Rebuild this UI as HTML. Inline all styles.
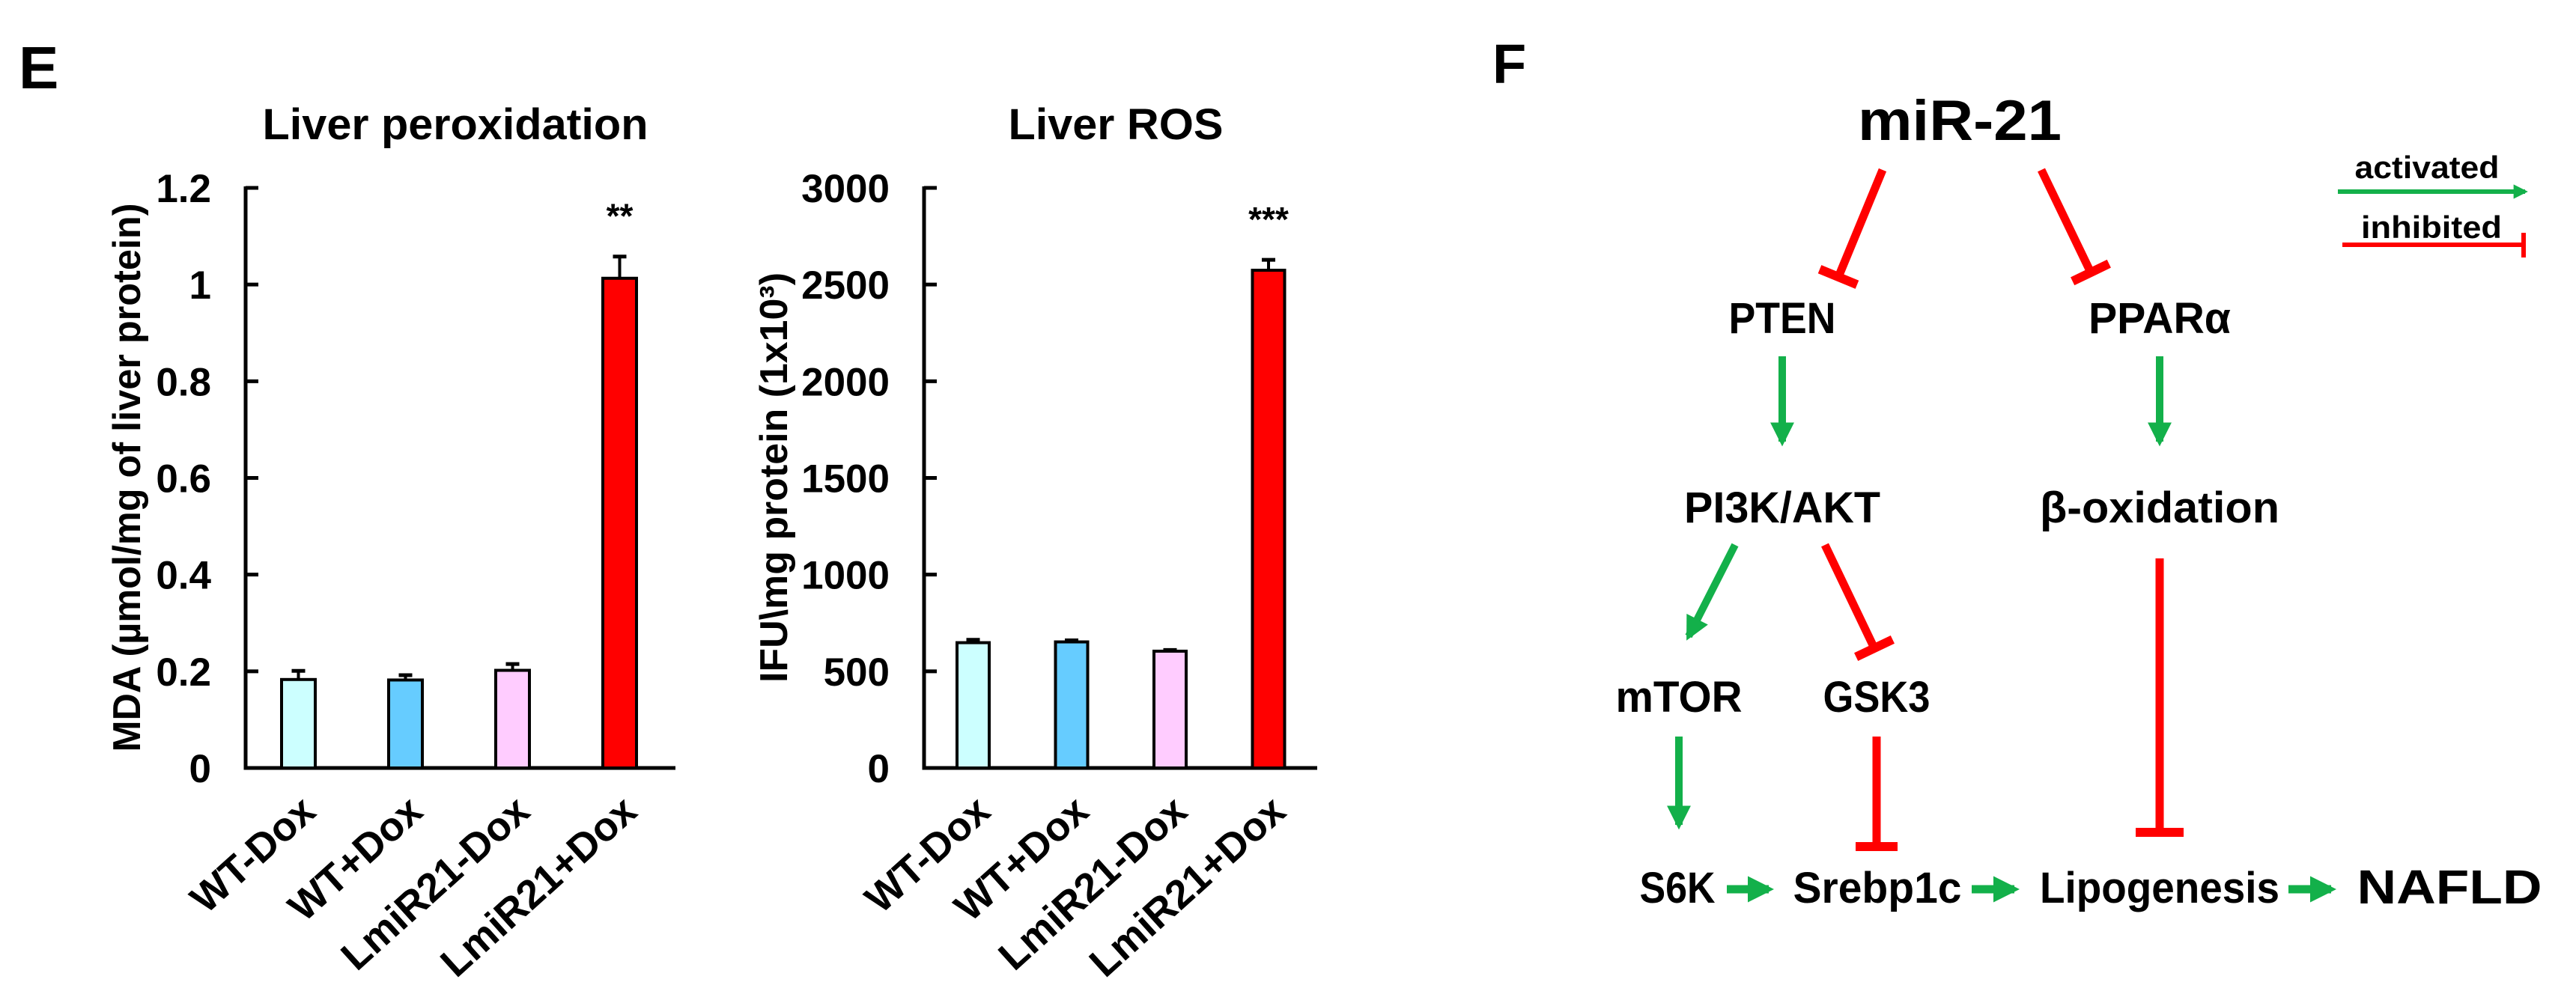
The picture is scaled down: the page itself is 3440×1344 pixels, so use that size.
<!DOCTYPE html>
<html><head><meta charset="utf-8"><style>
html,body{margin:0;padding:0;background:#fff;}
svg{display:block;}
text{font-family:"Liberation Sans",Arial,sans-serif;font-weight:bold;fill:#000;}
</style></head><body>
<svg id="fig" width="3440" height="1344" viewBox="0 0 3440 1344" xmlns="http://www.w3.org/2000/svg">
<defs>
<marker id="ga" viewBox="0 0 10 10" refX="8" refY="5" markerWidth="3.2" markerHeight="3.2" orient="auto" markerUnits="strokeWidth"><path d="M0,0 L10,5 L0,10 z" fill="#13b04a"/></marker>
</defs>
<text x="25" y="118" font-size="80">E</text>
<text x="1993" y="111" font-size="74">F</text>
<g id="c1"></g>
<g id="c2"></g>
<g id="diag"></g>
</svg>
<script>
const categories = ["WT-Dox","WT+Dox","LmiR21-Dox","LmiR21+Dox"];
const colors = ["#ccffff","#66ccff","#ffccff","#ff0000"];
const mdaValues = [0.183, 0.182, 0.202, 1.013];
const mdaErrors = [0.018, 0.010, 0.013, 0.045];
const mdaTicks = [0, 0.2, 0.4, 0.6, 0.8, 1, 1.2];
const mdaTickLabels = ["0","0.2","0.4","0.6","0.8","1","1.2"];
const rosValues = [648, 652, 604, 2574];
const rosErrors = [15, 8, 6, 54];
const rosTicks = [0, 500, 1000, 1500, 2000, 2500, 3000];
const rosTickLabels = ["0","500","1000","1500","2000","2500","3000"];
const NS = "http://www.w3.org/2000/svg";
function mk(parent, tag, attrs, txt){
  const e = document.createElementNS(NS, tag);
  for (const k in attrs) e.setAttribute(k, attrs[k]);
  if (txt !== undefined) e.textContent = txt;
  parent.appendChild(e);
  return e;
}
function chart(g, cfg){
  const y0 = 1026, y1 = 251;
  const ys = v => y0 - (v - cfg.min) / (cfg.max - cfg.min) * (y0 - y1);
  const xs = i => cfg.x0 + cfg.first + i * cfg.step;
  const t = mk(g, "text", {x: cfg.titleX, y: 186, "font-size": 58, "text-anchor": "middle", textLength: cfg.titleW, lengthAdjust: "spacingAndGlyphs"}, cfg.title);
  
  
  const yl = mk(g, "text", {x: 0, y: 0, "font-size": 52, "text-anchor": "middle", transform: `translate(${cfg.ylX},638) rotate(-90)`, textLength: cfg.ylW, lengthAdjust: "spacingAndGlyphs"}, cfg.ylabel);
  
  
  const ax = mk(g, "path", {d: `M${cfg.x0},${y1-2} V${y0} H${cfg.x1}`, stroke: "#000", "stroke-width": 5, fill: "none"});
  
  
  cfg.ticks.forEach((v, i) => {
    const tk = mk(g, "line", {x1: cfg.x0, x2: cfg.x0 + 17, y1: ys(v), y2: ys(v), stroke: "#000", "stroke-width": 5});
    
    
    const tl = mk(g, "text", {x: cfg.x0 - 46, y: ys(v) + 19, "font-size": 53, "text-anchor": "end"}, cfg.tickLabels[i]);
    
    
  });
  cfg.values.forEach((v, i) => {
    const x = xs(i), w = cfg.bw, top = ys(v), et = ys(v + cfg.errors[i]);
    const el = mk(g, "line", {x1: x + w/2, x2: x + w/2, y1: top, y2: et, stroke: "#000", "stroke-width": 4});
    
    
    const ec = mk(g, "line", {x1: x + w/2 - 9, x2: x + w/2 + 9, y1: et, y2: et, stroke: "#000", "stroke-width": 5});
    
    
    const b = mk(g, "rect", {x: x, y: top, width: w, height: y0 - top, fill: colors[i], stroke: "#000", "stroke-width": 4});
    
    
    const lb = mk(g, "text", {x: 0, y: 0, "font-size": 54, "text-anchor": "end", transform: `translate(${x + w/2 + 26},${y0 + 62}) rotate(-42)`}, categories[i]);
    
    
  });
  const last = cfg.values.length - 1;
  const st = mk(g, "text", {x: xs(last) + cfg.bw/2, y: ys(cfg.values[last] + cfg.errors[last]) - 38, "font-size": 46, "text-anchor": "middle"}, cfg.star);
  
  
}
chart(document.getElementById("c1"), {x0: 328, x1: 902, first: 48, step: 143, bw: 45, min: 0, max: 1.2,
  values: mdaValues, errors: mdaErrors, ticks: mdaTicks, tickLabels: mdaTickLabels,
  title: "Liver peroxidation", titleX: 608, titleW: 515, ylabel: "MDA (µmol/mg of liver protein)", ylX: 187, ylW: 733, star: "**"});
chart(document.getElementById("c2"), {x0: 1234, x1: 1759, first: 44, step: 131.5, bw: 43, min: 0, max: 3000,
  values: rosValues, errors: rosErrors, ticks: rosTicks, tickLabels: rosTickLabels,
  title: "Liver ROS", titleX: 1490, titleW: 287, ylabel: "IFU\\mg protein (1x10³)", ylX: 1051, ylW: 548, star: "***"});

// Pathway diagram
const D = document.getElementById("diag");
const G = "#13b04a", R = "#ff0000";
function label(x, y, s, w, name, size){
  const t = mk(D, "text", {x: x, y: y, "font-size": size || 58, "text-anchor": "middle", textLength: w, lengthAdjust: "spacingAndGlyphs"}, s);
  
  
}
function act(x1, y1, x2, y2, name, sw){
  const l = mk(D, "line", {x1, y1, x2, y2, stroke: G, "stroke-width": sw || 10, "marker-end": "url(#ga)"});
  
  
}
function inh(x1, y1, x2, y2, name, bar){
  const g = mk(D, "g", {});
  
  
  mk(g, "line", {x1, y1, x2, y2, stroke: R, "stroke-width": 11});
  const dx = x2 - x1, dy = y2 - y1, L = Math.hypot(dx, dy), px = -dy / L, py = dx / L, h = (bar || 54) / 2;
  mk(g, "line", {x1: x2 + px*h, y1: y2 + py*h, x2: x2 - px*h, y2: y2 - py*h, stroke: R, "stroke-width": 12});
}
label(2617, 187, "miR-21", 272, "mir-21-node", 76);
label(2380, 445, "PTEN", 143, "pten-node");
label(2884, 445, "PPARα", 190, "ppar-alpha-node");
label(2380, 698, "PI3K/AKT", 262, "pi3k-akt-node");
label(2884, 698, "β-oxidation", 320, "beta-oxidation-node");
label(2242, 951, "mTOR", 169, "mtor-node");
label(2506, 951, "GSK3", 143, "gsk3-node");
label(2240, 1206, "S6K", 101, "s6k-node");
label(2507, 1206, "Srebp1c", 225, "srebp1c-node");
label(2884, 1206, "Lipogenesis", 320, "lipogenesis-node");
label(3271, 1207, "NAFLD", 247, "nafld-node", 64);
inh(2514, 227, 2455, 370, "inhibit-mir21-pten");
inh(2726, 227, 2792, 364, "inhibit-mir21-ppar");
act(2380, 476, 2380, 590, "activate-pten-pi3k");
act(2884, 476, 2884, 590, "activate-ppar-betaox");
act(2317, 728, 2255, 850, "activate-pi3k-mtor");
inh(2437, 728, 2503, 866, "inhibit-pi3k-gsk3");
act(2242, 984, 2242, 1102, "activate-mtor-s6k");
inh(2506, 984, 2506, 1131, "inhibit-gsk3-srebp1c", 56);
inh(2884, 746, 2884, 1112, "inhibit-betaox-lipogenesis", 64);
act(2306, 1188, 2362, 1188, "activate-s6k-srebp1c", 11);
act(2633, 1188, 2690, 1188, "activate-srebp1c-lipogenesis", 11);
act(3056, 1188, 3113, 1188, "activate-lipogenesis-nafld", 11);
// legend
label(3241, 238, "activated", 193, "legend-activated-label", 42);
act(3122, 256, 3372, 256, "legend-activated-arrow", 6);
label(3247, 318, "inhibited", 188, "legend-inhibited-label", 42);
const lg = mk(D, "g", {});


mk(lg, "line", {x1: 3128, y1: 327, x2: 3370, y2: 327, stroke: R, "stroke-width": 6});
mk(lg, "line", {x1: 3370, y1: 311, x2: 3370, y2: 344, stroke: R, "stroke-width": 6});
</script>
</body></html>
